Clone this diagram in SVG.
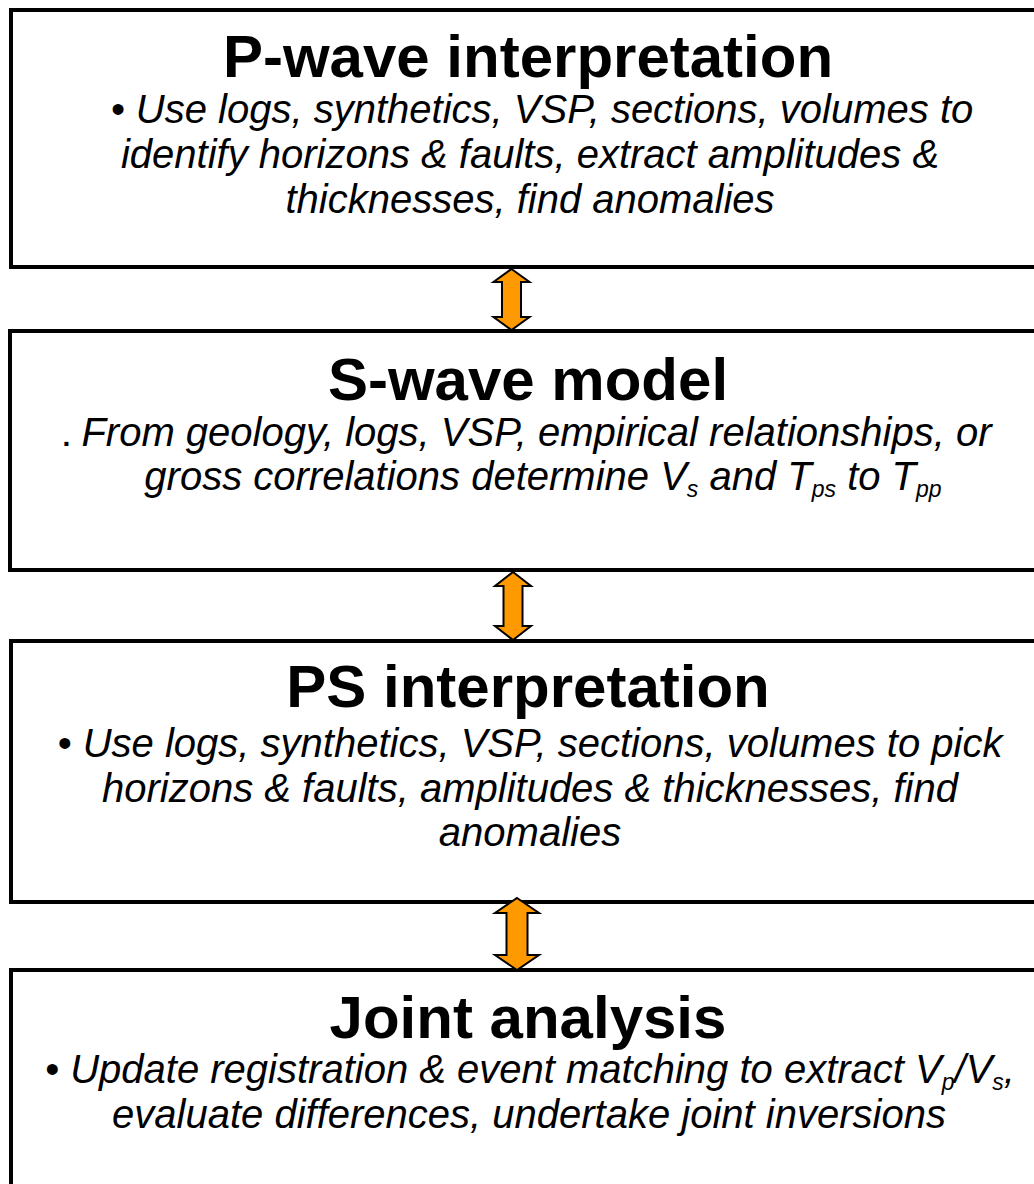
<svg xmlns="http://www.w3.org/2000/svg" width="1034" height="1184" viewBox="0 0 1034 1184">
<style>
.box{fill:#fff;stroke:#000;stroke-width:4}
.title{font-family:"Liberation Sans",Arial,sans-serif;font-weight:bold;font-size:60px;fill:#000;text-anchor:middle}
.body{font-family:"Liberation Sans",Arial,sans-serif;font-style:italic;font-size:40px;fill:#000;text-anchor:middle}
.sub{font-size:23px}
.arrow{fill:#FF9900;stroke:#000;stroke-width:2;stroke-linejoin:miter}
</style>
<rect width="1034" height="1184" fill="#fff"/>
<g id="node-pwave">
<rect class="box" x="11" y="10" width="1040" height="257"/>
<text class="title" x="528" y="77">P-wave interpretation</text>
<text class="body" x="542" y="123">• Use logs, synthetics, VSP, sections, volumes to</text>
<text class="body" x="530" y="168">identify horizons &amp; faults, extract amplitudes &amp;</text>
<text class="body" x="530" y="213">thicknesses, find anomalies</text>
</g>
<g id="node-swave">
<rect class="box" x="10" y="331" width="1040" height="239"/>
<text class="title" x="528" y="400">S-wave model</text>
<text class="body" x="527" y="446"><tspan font-style="normal" font-weight="bold" font-size="28px">.</tspan> From geology, logs, VSP, empirical relationships, or</text>
<text class="body" x="543" y="490">gross correlations determine V<tspan class="sub" dy="7">s</tspan><tspan dy="-7"> and T</tspan><tspan class="sub" dy="7">ps</tspan><tspan dy="-7"> to T</tspan><tspan class="sub" dy="7">pp</tspan></text>
</g>
<g id="node-ps">
<rect class="box" x="11" y="641" width="1040" height="261"/>
<text class="title" x="528" y="707">PS interpretation</text>
<text class="body" x="530" y="757">• Use logs, synthetics, VSP, sections, volumes to pick</text>
<text class="body" x="530" y="802">horizons &amp; faults, amplitudes &amp; thicknesses, find</text>
<text class="body" x="530" y="846">anomalies</text>
</g>
<g id="node-joint">
<rect class="box" x="11" y="970" width="1040" height="260"/>
<text class="title" x="528" y="1038">Joint analysis</text>
<text class="body" x="530" y="1083">• Update registration &amp; event matching to extract V<tspan class="sub" dy="7">p</tspan><tspan dy="-7">/V</tspan><tspan class="sub" dy="7">s</tspan><tspan dy="-7">,</tspan></text>
<text class="body" x="529" y="1128">evaluate differences, undertake joint inversions</text>
</g>
<g id="connectors">
<polygon class="arrow" points="511.5,269 529.5,282 521,282 521,317 529.5,317 511.5,330 493.5,317 502,317 502,282 493.5,282"/>
<polygon class="arrow" points="513,572 531,586 522.5,586 522.5,626 531,626 513,640 495,626 503.5,626 503.5,586 495,586"/>
<polygon class="arrow" points="517,898 539,913 527.5,913 527.5,955 539,955 517,970 495,955 506.5,955 506.5,913 495,913"/>
</g>
</svg>
